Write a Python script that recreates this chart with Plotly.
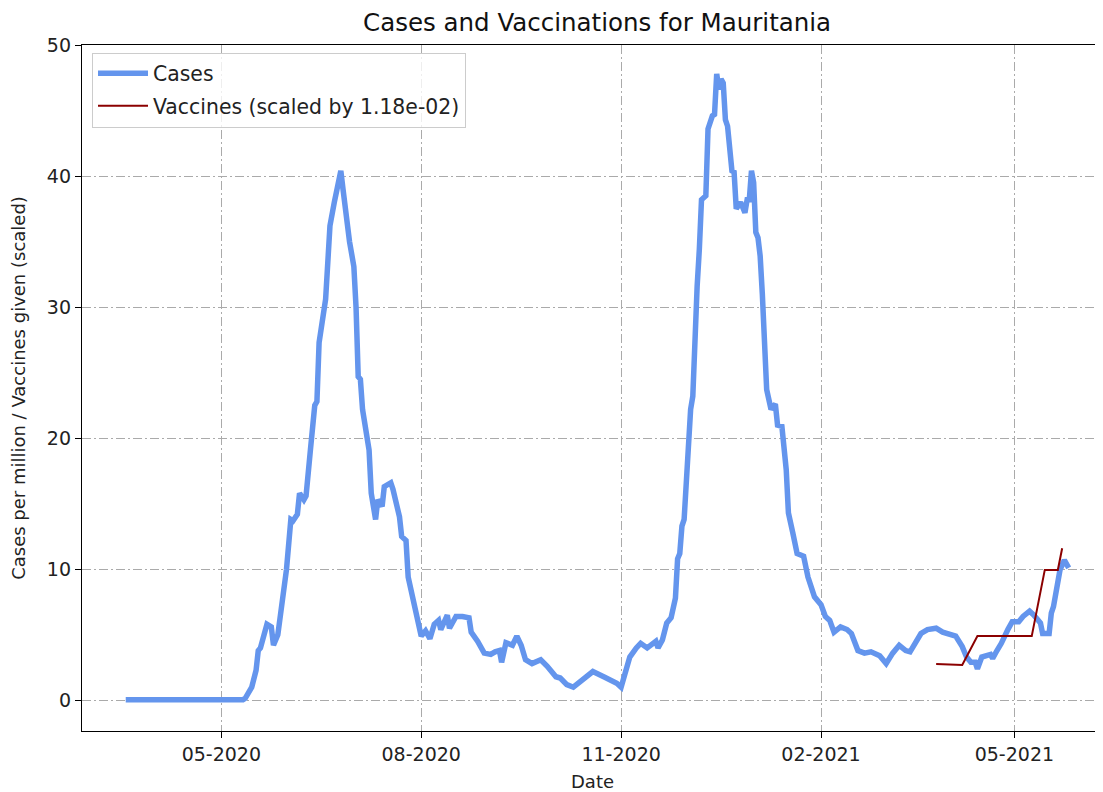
import pandas as pd
import plotly.graph_objects as go

# 7-day average of new cases per million
case_dates = [
    "2020-03-18", "2020-03-25", "2020-03-31", "2020-04-05", "2020-04-12", "2020-04-21",
    "2020-05-01", "2020-05-07", "2020-05-11", "2020-05-12", "2020-05-15", "2020-05-17",
    "2020-05-18", "2020-05-19", "2020-05-21", "2020-05-22", "2020-05-24", "2020-05-25",
    "2020-05-27", "2020-05-29", "2020-05-31", "2020-06-02", "2020-06-03", "2020-06-05",
    "2020-06-06", "2020-06-08", "2020-06-09", "2020-06-11", "2020-06-13", "2020-06-14",
    "2020-06-15", "2020-06-18", "2020-06-20", "2020-06-22", "2020-06-24", "2020-06-25",
    "2020-06-26", "2020-06-27", "2020-06-29", "2020-07-01", "2020-07-02", "2020-07-03",
    "2020-07-04", "2020-07-05", "2020-07-08", "2020-07-09", "2020-07-11", "2020-07-12",
    "2020-07-14", "2020-07-15", "2020-07-18", "2020-07-19", "2020-07-21", "2020-07-22",
    "2020-07-23", "2020-07-25", "2020-07-26", "2020-07-28", "2020-07-30", "2020-08-01",
    "2020-08-03", "2020-08-05", "2020-08-07", "2020-08-09", "2020-08-10", "2020-08-13",
    "2020-08-14", "2020-08-17", "2020-08-20", "2020-08-23", "2020-08-24", "2020-08-27",
    "2020-08-30", "2020-09-02", "2020-09-04", "2020-09-06", "2020-09-07", "2020-09-09",
    "2020-09-12", "2020-09-14", "2020-09-16", "2020-09-18", "2020-09-21", "2020-09-25",
    "2020-09-28", "2020-10-02", "2020-10-04", "2020-10-07", "2020-10-10", "2020-10-14",
    "2020-10-19", "2020-10-24", "2020-10-27", "2020-10-30", "2020-11-01", "2020-11-05",
    "2020-11-08", "2020-11-10", "2020-11-13", "2020-11-17", "2020-11-18", "2020-11-20",
    "2020-11-22", "2020-11-24", "2020-11-26", "2020-11-27", "2020-11-28", "2020-11-29",
    "2020-11-30", "2020-12-01", "2020-12-03", "2020-12-04", "2020-12-05", "2020-12-06",
    "2020-12-07", "2020-12-08", "2020-12-10", "2020-12-11", "2020-12-13", "2020-12-14",
    "2020-12-15", "2020-12-16", "2020-12-17", "2020-12-18", "2020-12-19", "2020-12-20",
    "2020-12-22", "2020-12-23", "2020-12-24", "2020-12-26", "2020-12-28", "2020-12-29",
    "2020-12-30", "2020-12-31", "2021-01-01", "2021-01-02", "2021-01-03", "2021-01-04",
    "2021-01-05", "2021-01-06", "2021-01-07", "2021-01-09", "2021-01-11", "2021-01-12",
    "2021-01-14", "2021-01-16", "2021-01-17", "2021-01-19", "2021-01-21", "2021-01-24",
    "2021-01-26", "2021-01-29", "2021-02-01", "2021-02-03", "2021-02-05", "2021-02-07",
    "2021-02-10", "2021-02-13", "2021-02-15", "2021-02-18", "2021-02-21", "2021-02-24",
    "2021-02-28", "2021-03-03", "2021-03-06", "2021-03-09", "2021-03-12", "2021-03-14",
    "2021-03-17", "2021-03-19", "2021-03-22", "2021-03-26", "2021-03-29", "2021-04-01",
    "2021-04-04", "2021-04-07", "2021-04-09", "2021-04-11", "2021-04-13", "2021-04-14",
    "2021-04-16", "2021-04-20", "2021-04-21", "2021-04-23", "2021-04-25", "2021-04-28",
    "2021-04-30", "2021-05-03", "2021-05-05", "2021-05-08", "2021-05-10", "2021-05-13",
    "2021-05-14", "2021-05-17", "2021-05-18", "2021-05-19", "2021-05-21", "2021-05-22",
    "2021-05-24", "2021-05-25", "2021-05-26",
]
cases_per_million = [
    0.05, 0.05, 0.12, 0.08, 0.03, 0.02,
    0.02, 0.03, 0.05, 0.15, 1.0, 2.3,
    3.8, 4.0, 5.2, 5.8, 5.6, 4.2,
    5.0, 7.4, 10.0, 13.8, 13.7, 14.2,
    15.8, 15.3, 15.6, 19.1, 22.5, 22.8,
    27.3, 30.6, 36.2, 38.0, 39.5, 40.4,
    39.0, 37.5, 35.0, 33.1, 30.0, 24.7,
    24.5, 22.2, 19.1, 15.8, 13.8, 15.3,
    14.8, 16.3, 16.6, 16.1, 14.5, 14.0,
    12.5, 12.2, 9.4, 7.9, 6.6, 4.9,
    5.3, 4.7, 5.8, 6.1, 5.4, 6.5,
    5.5, 6.4, 6.4, 6.3, 5.2, 4.5,
    3.6, 3.5, 3.7, 3.8, 2.9, 4.4,
    4.2, 4.9, 4.2, 3.1, 2.8, 3.1,
    2.6, 1.8, 1.7, 1.2, 1.0, 1.55,
    2.2, 1.8, 1.6, 1.3, 1.0, 3.3,
    4.0, 4.35, 4.0, 4.5, 4.0, 4.6,
    5.9, 6.3, 7.8, 10.8, 11.2, 13.3,
    13.8, 17.1, 22.2, 23.2, 29.3, 31.6,
    34.4, 38.2, 38.5, 43.6, 44.6, 44.7,
    47.8, 46.6, 47.4, 47.1, 44.3, 43.8,
    40.4, 40.3, 37.5, 38.0, 37.2, 38.2,
    38.2, 40.4, 39.5, 35.7, 35.3, 33.9,
    31.0, 26.8, 23.7, 22.2, 22.6, 21.0,
    20.9, 17.6, 14.3, 12.8, 11.2, 11.0,
    9.4, 7.9, 7.3, 6.4, 6.1, 5.2,
    5.6, 5.4, 5.1, 3.8, 3.6, 3.7,
    3.4, 2.8, 3.6, 4.2, 3.8, 3.7,
    4.6, 5.1, 5.4, 5.5, 5.2, 5.1,
    4.9, 4.1, 3.3, 2.9, 2.9, 2.4,
    3.3, 3.5, 3.2, 3.8, 4.35, 5.4,
    6.0, 6.0, 6.4, 6.8, 6.5, 5.9,
    5.1, 5.1, 6.65, 7.15, 8.7, 9.95,
    10.7, 10.3, 10.1,
]

# vaccines given, already multiplied by 1.18e-02
vaccine_dates = ["2021-03-26", "2021-04-07", "2021-04-14", "2021-05-09",
                 "2021-05-15", "2021-05-21", "2021-05-23"]
vaccines_scaled = [2.77, 2.7, 4.9, 4.9, 9.95, 9.95, 11.6]

tick_dates = ["2020-05-01", "2020-08-01", "2020-11-01", "2021-02-01", "2021-05-01"]
tick_labels = ["05-2020", "08-2020", "11-2020", "02-2021", "05-2021"]

fig = go.Figure()
fig.add_trace(go.Scatter(
    x=pd.to_datetime(case_dates), y=cases_per_million, mode="lines", name="Cases",
    line=dict(color="#6495ED", width=5.5), legendgroup="a",
))
fig.add_trace(go.Scatter(
    x=pd.to_datetime(vaccine_dates), y=vaccines_scaled, mode="lines",
    name="Vaccines (scaled by 1.18e-02)",
    line=dict(color="#8B0000", width=2), legendgroup="b",
))

# page body has an 8px margin, so the figure is 8px smaller than the window
fig.update_layout(
    width=1095,
    height=784,
    margin=dict(l=74, r=0, t=37, b=61),
    paper_bgcolor="white",
    plot_bgcolor="white",
    font=dict(family="DejaVu Sans", size=19, color="#222222"),
    title=dict(
        text="Cases and Vaccinations for Mauritania",
        x=0.5045, xref="paper", xanchor="center",
        y=0.982, yref="container", yanchor="middle",
        font=dict(size=24.5, color="#111111"),
    ),
    legend=dict(
        x=0.0098, y=0.989, xanchor="left", yanchor="top",
        bgcolor="rgba(255,255,255,0.8)", bordercolor="#cccccc", borderwidth=1,
        font=dict(size=20.4),
        itemwidth=50,
        traceorder="grouped",
        tracegroupgap=3,
    ),
)

fig.update_xaxes(
    range=["2020-02-26 21:00", "2021-06-10 19:00"],
    tickvals=pd.to_datetime(tick_dates), ticktext=tick_labels,
    ticks="outside", ticklen=6, tickcolor="black",
    showline=True, linecolor="black", linewidth=1.3, mirror=True,
    showgrid=True, gridcolor="#aaaaaa", griddash="9px,3px,2px,3px", gridwidth=1,
    title=dict(text="Date", standoff=13, font=dict(size=18)),
    zeroline=False, automargin=False,
)
fig.update_yaxes(
    range=[-2.34, 50],
    tickvals=[0, 10, 20, 30, 40, 50],
    ticks="outside", ticklen=6, tickcolor="black",
    showline=True, linecolor="black", linewidth=1.3, mirror=False,
    showgrid=True, gridcolor="#aaaaaa", griddash="9px,3px,2px,3px", gridwidth=1,
    title=dict(text="Cases per million / Vaccines given (scaled)", standoff=16,
               font=dict(size=18)),
    zeroline=False, automargin=False,
)

fig.write_html("out.html")
